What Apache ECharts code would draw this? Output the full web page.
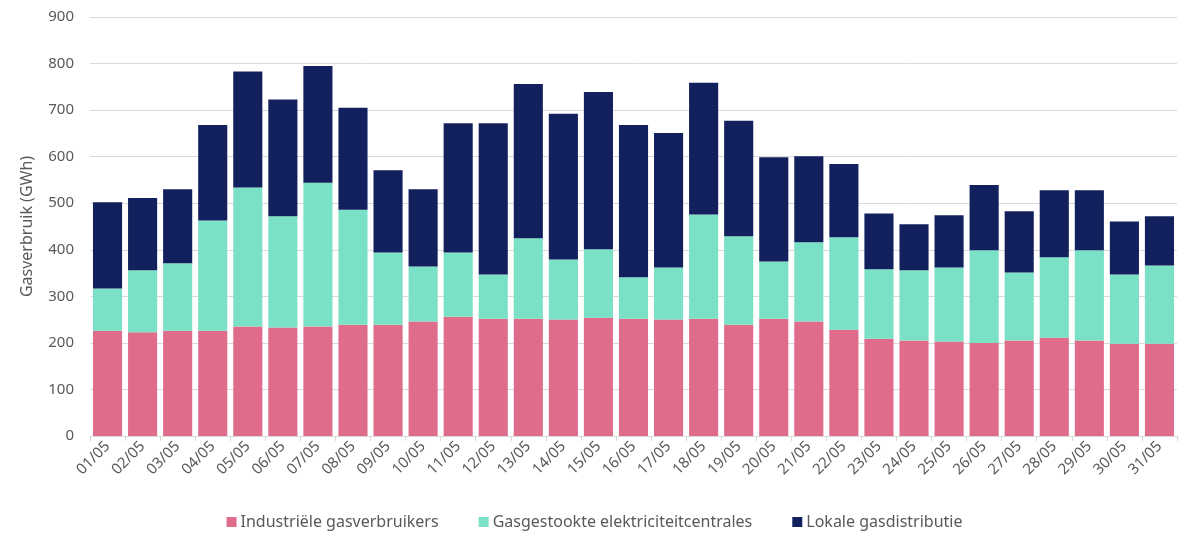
<!DOCTYPE html>
<html>
<head>
<meta charset="utf-8">
<script src="https://cdn.jsdelivr.net/npm/echarts@6/dist/echarts.min.js"></script>
<style>
  html, body { margin: 0; padding: 0; background: #fff; }
  #chart { width: 1189px; height: 543px; }
</style>
</head>
<body>
<div id="chart"></div>
<script>
// dagen van mei
var days = ['01/05','02/05','03/05','04/05','05/05','06/05','07/05','08/05','09/05','10/05',
  '11/05','12/05','13/05','14/05','15/05','16/05','17/05','18/05','19/05','20/05',
  '21/05','22/05','23/05','24/05','25/05','26/05','27/05','28/05','29/05','30/05','31/05'];

var industrie = [226,223,226,226,235,233,235,239,239,246,
  256,252,252,250,254,252,250,252,239,252,
  246,228,209,205,203,200,205,211,205,198,198];
var centrales = [91,133,145,237,299,239,309,247,155,118,
  138,95,173,129,147,89,112,224,190,123,
  170,199,149,151,159,199,146,173,194,149,168];
var lokaal = [185,155,159,205,249,251,251,219,177,166,
  278,325,331,313,338,327,289,283,248,224,
  185,157,120,99,112,140,132,144,129,114,106];

var yTicks = [0,100,200,300,400,500,600,700,800,900];

var textColor = '#595959';
var font = 'Noto Sans';

var myChart = echarts.init(document.getElementById('chart'));

var option = {
  animation: false,
  textStyle: { fontFamily: font },
  grid: { left: 90, right: 12, top: 17, bottom: 107 },
  legend: {
    top: 509,
    left: 'center',
    icon: 'rect',
    itemWidth: 10,
    itemHeight: 10,
    itemGap: 40,
    textStyle: { color: textColor, fontSize: 16, fontFamily: font, padding: [0, 0, 0, -1] },
    data: ['Industriële gasverbruikers', 'Gasgestookte elektriciteitcentrales', 'Lokale gasdistributie']
  },
  xAxis: {
    type: 'category',
    data: days,
    axisLine: { lineStyle: { color: '#d9d9d9' } },
    axisTick: { show: true, length: 5, lineStyle: { color: '#d9d9d9' } },
    axisLabel: { rotate: 45, color: textColor, fontSize: 15, margin: 8 }
  },
  yAxis: {
    type: 'value',
    min: yTicks[0],
    max: yTicks[yTicks.length - 1],
    interval: 100,
    name: 'Gasverbruik (GWh)',
    nameLocation: 'middle',
    nameGap: 55,
    nameTextStyle: { color: textColor, fontSize: 16 },
    axisLine: { show: false },
    axisTick: { show: false },
    axisLabel: { color: textColor, fontSize: 15, margin: 16 },
    splitLine: { lineStyle: { color: '#d9d9d9' } }
  },
  series: [
    {
      name: 'Industriële gasverbruikers',
      type: 'bar',
      stack: 'gas',
      barCategoryGap: '17%',
      itemStyle: { color: '#E06C8C' },
      data: industrie
    },
    {
      name: 'Gasgestookte elektriciteitcentrales',
      type: 'bar',
      stack: 'gas',
      barCategoryGap: '17%',
      itemStyle: { color: '#7AE0C6' },
      data: centrales
    },
    {
      name: 'Lokale gasdistributie',
      type: 'bar',
      stack: 'gas',
      barCategoryGap: '17%',
      itemStyle: { color: '#13205E' },
      data: lokaal
    }
  ]
};

myChart.setOption(option);
</script>
</body>
</html>
